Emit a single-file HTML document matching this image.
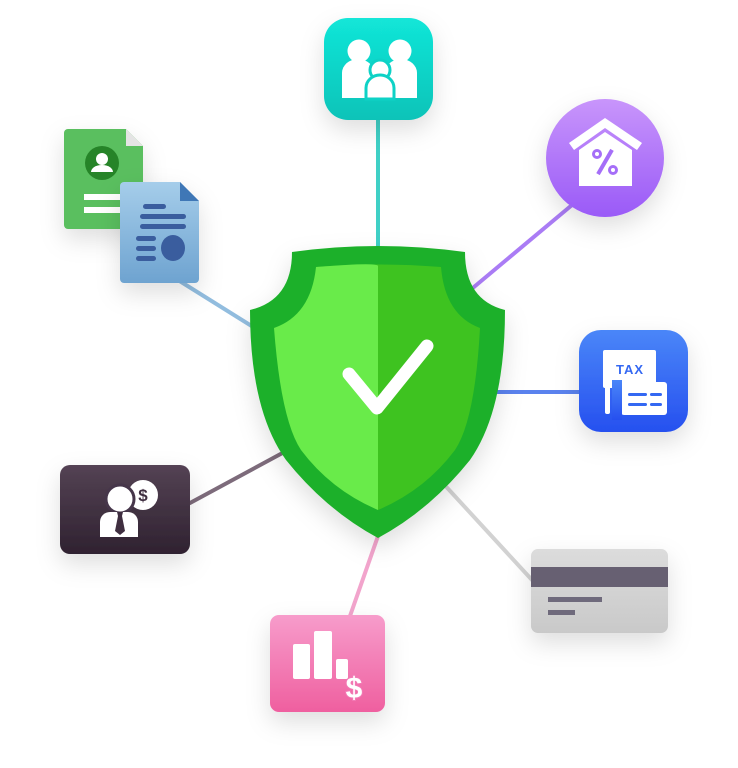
<!DOCTYPE html>
<html><head><meta charset="utf-8"><style>html,body{margin:0;padding:0;background:#fff;}svg{display:block}</style></head><body>
<svg width="738" height="768" viewBox="0 0 738 768" xmlns="http://www.w3.org/2000/svg">
<defs>
<filter id="sh" x="-50%" y="-50%" width="200%" height="200%"><feDropShadow dx="0" dy="10" stdDeviation="12" flood-color="#000" flood-opacity="0.13"/></filter>
<linearGradient id="gT" x1="0" y1="0" x2="0" y2="1"><stop offset="0" stop-color="#12e6d8"/><stop offset="1" stop-color="#0cc3b8"/></linearGradient>
<linearGradient id="gP" x1="0" y1="0" x2="0" y2="1"><stop offset="0" stop-color="#c895fb"/><stop offset="1" stop-color="#9a5af7"/></linearGradient>
<linearGradient id="gB" x1="0" y1="0" x2="0" y2="1"><stop offset="0" stop-color="#4a86f8"/><stop offset="1" stop-color="#2650ef"/></linearGradient>
<linearGradient id="gC" x1="0" y1="0" x2="0" y2="1"><stop offset="0" stop-color="#dcdcdc"/><stop offset="1" stop-color="#c9c9c9"/></linearGradient>
<linearGradient id="gK" x1="0" y1="0" x2="0" y2="1"><stop offset="0" stop-color="#f79ccb"/><stop offset="1" stop-color="#ef5f9f"/></linearGradient>
<linearGradient id="gD" x1="0" y1="0" x2="0" y2="1"><stop offset="0" stop-color="#544254"/><stop offset="1" stop-color="#2f2230"/></linearGradient>
<linearGradient id="gDoc" x1="0" y1="0" x2="0" y2="1"><stop offset="0" stop-color="#a5cdea"/><stop offset="1" stop-color="#6ea3d0"/></linearGradient>
</defs>
<!-- connectors -->
<g stroke-width="4" stroke-linecap="round">
<line x1="378" y1="120" x2="378" y2="248" stroke="#3fd0c6"/>
<line x1="572" y1="205" x2="468" y2="292" stroke="#aa7cf5"/>
<line x1="485" y1="392" x2="580" y2="392" stroke="#5a82ee"/>
<line x1="440" y1="480" x2="532" y2="580" stroke="#d2d2d2"/>
<line x1="378" y1="536" x2="350" y2="616" stroke="#f2a4cc"/>
<line x1="190" y1="503" x2="288" y2="450" stroke="#7d6b7b"/>
<line x1="178" y1="280" x2="258" y2="330" stroke="#92bddf"/>
</g>
<!-- teal family -->
<rect x="324" y="18" width="109" height="102" rx="24" fill="url(#gT)" filter="url(#sh)"/>
<g fill="#fff">
<circle cx="359" cy="51" r="11.5"/><circle cx="400" cy="51" r="11.5"/>
<path d="M342 98 V73 a16 14 0 0 1 32 0 V98 Z"/><path d="M385 98 V73 a16 14 0 0 1 32 0 V98 Z"/>
</g>
<g fill="#fff" stroke="#0ed2c6" stroke-width="3"><circle cx="380" cy="70" r="10"/><path d="M366 99 V88 a14 13 0 0 1 28 0 V99 Z"/></g>
<!-- purple house -->
<circle cx="605" cy="158" r="59" fill="url(#gP)" filter="url(#sh)"/>
<g fill="#fff"><path d="M569 143 L605 118 L642 143 L637 150 L605 128 L574 150 Z"/><path d="M579 150 L605 132 L632 150 V186 H579 Z"/></g>
<g fill="#a56ef8"><circle cx="597" cy="154" r="5"/><circle cx="613" cy="170" r="5"/><rect x="603" y="148" width="4" height="28" transform="rotate(30 605 162)"/></g>
<circle cx="597" cy="154" r="2" fill="#fff"/><circle cx="613" cy="170" r="2" fill="#fff"/>
<!-- tax -->
<rect x="579" y="330" width="109" height="102" rx="22" fill="url(#gB)" filter="url(#sh)"/>
<g fill="#fff"><rect x="603" y="350" width="53" height="38" rx="2"/><rect x="621" y="382" width="46" height="33" rx="3"/></g>
<rect x="612" y="380" width="10" height="40" fill="url(#gB)"/>
<rect x="605" y="381" width="5" height="33" rx="2" fill="#fff"/>
<text x="630" y="374" font-family="Liberation Sans, sans-serif" font-weight="bold" font-size="13" fill="#3468f2" text-anchor="middle" letter-spacing="1">TAX</text>
<g fill="#3468f2"><rect x="628" y="393" width="19" height="3" rx="1.5"/><rect x="650" y="393" width="12" height="3" rx="1.5"/><rect x="628" y="403" width="19" height="3" rx="1.5"/><rect x="650" y="403" width="12" height="3" rx="1.5"/></g>
<!-- card -->
<rect x="531" y="549" width="137" height="84" rx="7" fill="url(#gC)" filter="url(#sh)"/>
<rect x="531" y="567" width="137" height="20" fill="#676072"/>
<rect x="548" y="597" width="54" height="5" fill="#6f6a7c"/><rect x="548" y="610" width="27" height="5" fill="#6f6a7c"/>
<!-- pink -->
<rect x="270" y="615" width="115" height="97" rx="9" fill="url(#gK)" filter="url(#sh)"/>
<g fill="#fff"><rect x="293" y="644" width="17" height="35" rx="2"/><rect x="314" y="631" width="18" height="48" rx="2"/><rect x="336" y="659" width="12" height="20" rx="2"/></g>
<text x="354" y="698" font-family="Liberation Sans, sans-serif" font-weight="bold" font-size="30" fill="#fff" stroke="#f27ab5" stroke-width="2" paint-order="stroke" text-anchor="middle">$</text>
<!-- dark -->
<rect x="60" y="465" width="130" height="89" rx="10" fill="url(#gD)" filter="url(#sh)"/>
<circle cx="143" cy="495" r="15" fill="#fff"/>
<text x="143" y="501" font-family="Liberation Sans, sans-serif" font-weight="bold" font-size="17" fill="#3f2e40" text-anchor="middle">$</text>
<circle cx="120" cy="499" r="14" fill="#fff" stroke="#46364a" stroke-width="3"/>
<path d="M100 537 V522 a10 10 0 0 1 10 -10 H128 a10 10 0 0 1 10 10 V537 Z" fill="#fff"/>
<path d="M117 512 H123 L122 516 L125 531 L120 535 L115 531 L118 516 Z" fill="#3f2e40"/>
<!-- docs -->
<g filter="url(#sh)">
<path d="M64 133 a4 4 0 0 1 4 -4 H126 L143 146 V225 a4 4 0 0 1 -4 4 H68 a4 4 0 0 1 -4 -4 Z" fill="#5abf5e"/>
</g>
<path d="M126 129 L143 146 H126 Z" fill="#e4e4e4"/>
<circle cx="102" cy="163" r="17" fill="#268428"/>
<circle cx="102" cy="159" r="6" fill="#fff"/><path d="M91 172 a11 7 0 0 1 22 0 Z" fill="#fff"/>
<rect x="84" y="194" width="38" height="6" fill="#fff"/><rect x="84" y="207" width="38" height="6" fill="#fff"/>
<g filter="url(#sh)">
<path d="M120 186 a4 4 0 0 1 4 -4 H180 L199 201 V279 a4 4 0 0 1 -4 4 H124 a4 4 0 0 1 -4 -4 Z" fill="url(#gDoc)"/>
</g>
<path d="M180 182 L199 201 H180 Z" fill="#3f77b6"/>
<g fill="#3a5d9e"><rect x="143" y="204" width="23" height="5" rx="2.5"/><rect x="140" y="214" width="46" height="5" rx="2.5"/><rect x="140" y="224" width="46" height="5" rx="2.5"/><rect x="136" y="236" width="20" height="5" rx="2.5"/><rect x="136" y="246" width="20" height="5" rx="2.5"/><rect x="136" y="256" width="20" height="5" rx="2.5"/><ellipse cx="173" cy="248" rx="12" ry="13"/></g>
<!-- shield -->
<g filter="url(#sh)">
<path d="M292 252 Q378 240 465 252 Q465 300 505 310 Q505 410 470 460 Q430 510 378 538 Q326 510 286 460 Q250 410 250 310 Q292 300 292 252 Z" fill="#1fb02c"/>
</g>
<path d="M316 267 Q378 262 441 267 Q445 315 480 328 Q475 420 455 450 Q425 490 378 510 Z" fill="#3ec320"/>
<path d="M316 267 Q378 262 378 266 L378 510 Q331 490 301 450 Q281 420 274 328 Q311 315 316 267 Z" fill="#69eb4a"/>
<polyline points="349,374 377,408 427,346" fill="none" stroke="#fff" stroke-width="13" stroke-linecap="round" stroke-linejoin="round"/>
</svg>
</body></html>
